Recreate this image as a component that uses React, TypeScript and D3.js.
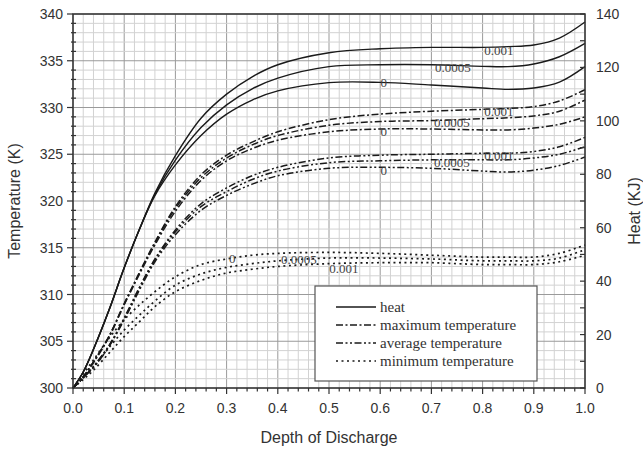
import * as d3 from "d3";

const depth = [0, 0.02, 0.04, 0.07, 0.1, 0.13, 0.16, 0.2, 0.25, 0.3, 0.35, 0.4, 0.5, 0.6, 0.7, 0.8, 0.85, 0.9, 0.95, 1.0];

// heat (KJ, right axis)
const heat001 = [0, 6, 14.5, 29, 45, 59.5, 73, 87, 101, 110, 116.5, 121, 125.5, 127, 127.5, 127.5, 127.8, 128.4, 131, 137];
const heat0005 = [0, 6, 14.5, 29, 45, 59.5, 72.5, 85.3, 97.5, 106, 112, 116, 120.3, 121, 121, 120.4, 120.3, 121.3, 124, 129];
const heat0 = [0, 6, 14.5, 29, 45, 59.5, 72, 83.5, 94.5, 102.5, 107.8, 111.2, 114.3, 114.4, 113.4, 112.3, 111.8, 112.3, 114.5, 120.3];

// maximum temperature (K)
const max001 = [300, 301.2, 302.8, 305.5, 309, 312.4, 315.6, 319.4, 322.8, 324.9, 326.3, 327.4, 328.7, 329.3, 329.6, 329.8, 329.9, 330.1, 330.7, 331.9];
const max0005 = [300, 301.2, 302.8, 305.5, 309, 312.3, 315.5, 319.2, 322.5, 324.6, 326.0, 327.0, 328.1, 328.5, 328.6, 328.8, 328.9, 329.1, 329.6, 330.8];
const max0 = [300, 301.2, 302.7, 305.4, 308.9, 312.2, 315.3, 318.9, 322.2, 324.3, 325.6, 326.5, 327.4, 327.7, 327.7, 327.6, 327.6, 327.8, 328.2, 329.0];

// average temperature (K)
const avg001 = [300, 301.1, 302.3, 304.5, 307.5, 310.8, 313.8, 316.9, 319.7, 321.4, 322.7, 323.6, 324.6, 324.9, 325.0, 325.1, 325.1, 325.3, 325.8, 326.8];
const avg0005 = [300, 301.1, 302.3, 304.5, 307.4, 310.7, 313.7, 316.7, 319.4, 321.0, 322.3, 323.2, 324.1, 324.3, 324.4, 324.4, 324.4, 324.6, 325.0, 325.8];
const avg0 = [300, 301.1, 302.2, 304.4, 307.3, 310.5, 313.5, 316.4, 319.0, 320.6, 321.8, 322.7, 323.5, 323.6, 323.5, 323.2, 323.1, 323.3, 323.8, 324.7];

// minimum temperature (K)
const min0 = [300, 301.5, 303, 305.3, 307.3, 308.9, 310.3, 311.9, 313.2, 313.8, 314.2, 314.4, 314.5, 314.4, 314.2, 314.0, 314.0, 314.0, 314.4, 315.3];
const min0005 = [300, 301.1, 302.2, 304.3, 306.2, 307.8, 309.3, 311.0, 312.2, 312.9, 313.3, 313.6, 313.9, 313.9, 313.8, 313.6, 313.6, 313.6, 313.9, 314.8];
const min001 = [300, 300.9, 301.9, 303.7, 305.5, 307.1, 308.7, 310.3, 311.5, 312.3, 312.7, 313.0, 313.3, 313.4, 313.4, 313.2, 313.2, 313.2, 313.5, 314.2];

// curve labels: [text, depth, value]
const heatLabels: [string, number, number][] = [["0.001", 0.832, 126.2], ["0.0005", 0.742, 119.8], ["0", 0.607, 114.2]];
const tempLabels: [string, number, number][] = [
  ["0.001", 0.832, 329.6], ["0.0005", 0.74, 328.4], ["0", 0.607, 327.4],
  ["0.001", 0.832, 324.9], ["0.0005", 0.74, 324.1], ["0", 0.607, 323.3],
  ["0", 0.311, 313.9], ["0.0005", 0.441, 313.7], ["0.001", 0.529, 312.8],
];

const legendItems = ["heat", "maximum temperature", "average temperature", "minimum temperature"];
const xTicks = [0, 0.1, 0.2, 0.3, 0.4, 0.5, 0.6, 0.7, 0.8, 0.9, 1.0];
const tTicks = [300, 305, 310, 315, 320, 325, 330, 335, 340];
const hTicks = [0, 20, 40, 60, 80, 100, 120, 140];

const W = 643, H = 449;
const m = { left: 73, right: 585, top: 14, bottom: 388 };

const STYLES: Record<string, { dash: string; w: number }> = {
  heat: { dash: "", w: 1.4 },
  max: { dash: "7,2.5,2,2.5", w: 1.5 },
  avg: { dash: "7,2.5,2,2.5,2,2.5", w: 1.5 },
  min: { dash: "2,3.5", w: 1.7 },
};

export default function App() {
  const x = d3.scaleLinear().domain([0, 1]).range([m.left, m.right]);
  const yT = d3.scaleLinear().domain([300, 340]).range([m.bottom, m.top]);
  const yH = d3.scaleLinear().domain([0, 140]).range([m.bottom, m.top]);

  const mk = (ys: number[], y: d3.ScaleLinear<number, number>) =>
    d3.line<number>().x((_, i) => x(depth[i])).y(d => y(d)).curve(d3.curveCatmullRom.alpha(0.5))(ys) ?? "";

  const series: { d: string; s: string }[] = [
    ...[heat001, heat0005, heat0].map(v => ({ d: mk(v, yH), s: "heat" })),
    ...[max001, max0005, max0].map(v => ({ d: mk(v, yT), s: "max" })),
    ...[avg001, avg0005, avg0].map(v => ({ d: mk(v, yT), s: "avg" })),
    ...[min0, min0005, min001].map(v => ({ d: mk(v, yT), s: "min" })),
  ];

  const xMinor = d3.range(0, 1.0001, 0.02);
  const tMinor = d3.range(300, 340.001, 1);
  const hMinor = d3.range(0, 140.001, 10);

  const sans = "'Liberation Sans', Arial, sans-serif";
  const serif = "'Liberation Serif', 'Times New Roman', serif";
  const legendStyles = ["heat", "max", "avg", "min"];

  return (
    <svg width={W} height={H} style={{ position: "absolute", left: 0, top: 0, background: "#fff" }}>
      {/* grid */}
      <g>
        {xMinor.map((v, i) => (
          <line key={"gx" + i} x1={x(v)} x2={x(v)} y1={m.top} y2={m.bottom}
            stroke={i % 5 === 0 ? "#9a9a9a" : "#d2d2d2"} strokeWidth={1} />
        ))}
        {tMinor.map((v, i) => (
          <line key={"gy" + i} x1={m.left} x2={m.right} y1={yT(v)} y2={yT(v)}
            stroke={i % 5 === 0 ? "#9a9a9a" : "#d2d2d2"} strokeWidth={1} />
        ))}
      </g>

      {/* curves */}
      <g fill="none" stroke="#1a1a1a">
        {series.map((s, i) => (
          <path key={i} d={s.d} strokeWidth={STYLES[s.s].w} strokeDasharray={STYLES[s.s].dash} />
        ))}
      </g>

      {/* curve labels */}
      <g fontFamily={serif} fontSize={13} fill="#444" textAnchor="middle" dominantBaseline="central">
        {heatLabels.map(([t, dx, v], i) => (
          <text key={"hl" + i} x={x(dx)} y={yH(v)}>{t}</text>
        ))}
        {tempLabels.map(([t, dx, v], i) => (
          <text key={"tl" + i} x={x(dx)} y={yT(v)}>{t}</text>
        ))}
      </g>

      {/* frame */}
      <rect x={m.left} y={m.top} width={m.right - m.left} height={m.bottom - m.top}
        fill="none" stroke="#333" strokeWidth={1.5} />

      {/* axis ticks */}
      <g stroke="#333" strokeWidth={1.2}>
        {xMinor.map((v, i) => (
          <line key={"bx" + i} x1={x(v)} x2={x(v)} y1={m.bottom} y2={m.bottom + (i % 5 === 0 ? 6 : 3.5)} />
        ))}
        {tMinor.map((v, i) => (
          i % 5 === 0
            ? <line key={"ly" + i} x1={m.left - 6} x2={m.left} y1={yT(v)} y2={yT(v)} />
            : <line key={"ly" + i} x1={m.left - 2} x2={m.left + 3} y1={yT(v)} y2={yT(v)} />
        ))}
        {hMinor.map((v, i) => (
          <line key={"ry" + i} x1={m.right - 5} x2={m.right} y1={yH(v)} y2={yH(v)} />
        ))}
      </g>

      {/* tick labels */}
      <g fontFamily={sans} fontSize={14} fill="#333">
        {xTicks.map(v => (
          <text key={"xt" + v} x={x(v)} y={m.bottom + 25} textAnchor="middle">{d3.format(".1f")(v)}</text>
        ))}
        {tTicks.map(v => (
          <text key={"tt" + v} x={m.left - 10} y={yT(v) + 5} textAnchor="end">{v}</text>
        ))}
        {hTicks.map(v => (
          <text key={"ht" + v} x={m.right + 11} y={yH(v) + 5} textAnchor="start">{v}</text>
        ))}
      </g>

      {/* axis titles */}
      <g fontFamily={sans} fontSize={16} fill="#333" textAnchor="middle">
        <text x={(m.left + m.right) / 2} y={443}>Depth of Discharge</text>
        <text transform={`translate(20,${(m.top + m.bottom) / 2}) rotate(-90)`}>Temperature (K)</text>
        <text transform={`translate(640,${(m.top + m.bottom) / 2 + 10}) rotate(-90)`}>Heat (KJ)</text>
      </g>

      {/* legend */}
      <g>
        <rect x={315} y={286} width={222} height={95} fill="#fff" stroke="#555" strokeWidth={1.2} />
        {legendItems.map((t, i) => (
          <g key={t} transform={`translate(336,${307 + i * 18})`}>
            <line x1={0} x2={40} y1={0} y2={0} stroke="#1a1a1a"
              strokeWidth={STYLES[legendStyles[i]].w} strokeDasharray={STYLES[legendStyles[i]].dash} />
            <text x={44} y={0} dominantBaseline="central" fontFamily={serif} fontSize={15} fill="#333">{t}</text>
          </g>
        ))}
      </g>
    </svg>
  );
}
